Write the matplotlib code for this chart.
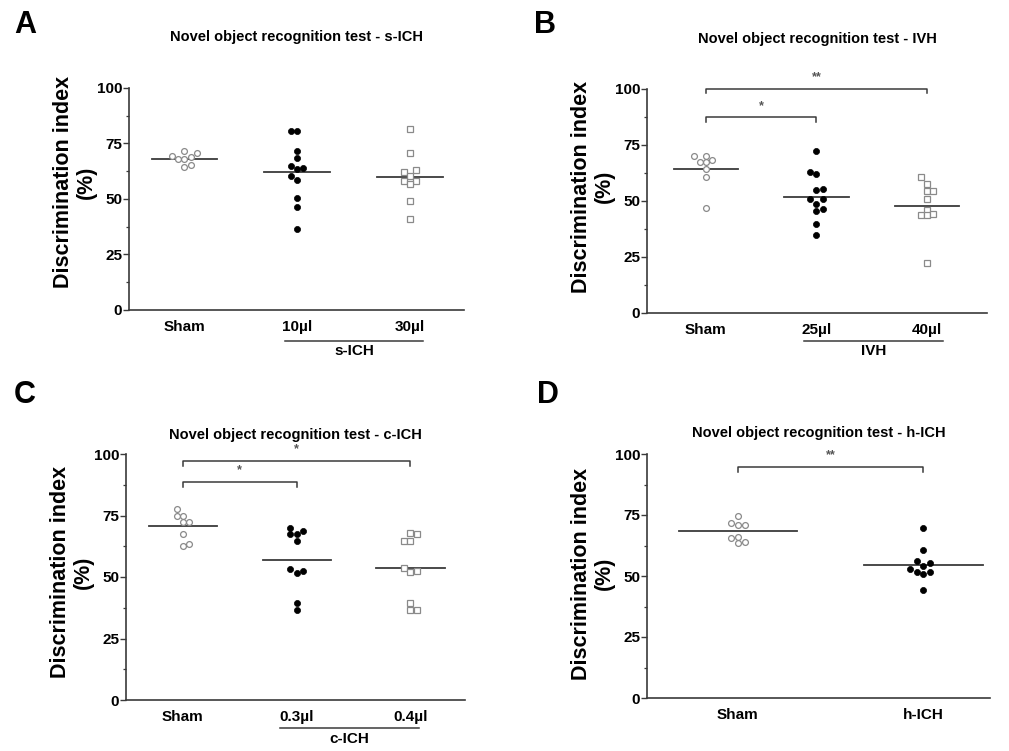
import matplotlib
matplotlib.use("Agg")
import matplotlib.pyplot as plt
import numpy as np

plt.rcParams["font.family"] = ["Liberation Sans", "DejaVu Sans"]
plt.rcParams["font.weight"] = "bold"

W, H = 1009, 751
INK = "#3a3a3a"
GREY = "#8a8a8a"

# ---------------------------------------------------------------------------
# Data (discrimination index, %) and horizontal slot of each dot in its column
# ---------------------------------------------------------------------------

a_labels = ["Sham", "10µl", "30µl"]
a_sham = [69.2, 68.1, 71.4, 68.0, 68.9, 70.5, 64.2, 65.4]
a_sham_slot = [-2, -1, 0, 0, 1, 2, 0, 1]
a_10 = [80.8, 80.8, 71.7, 68.3, 64.8, 63.5, 64.1, 60.5, 58.6, 50.5, 46.2, 36.5]
a_10_slot = [-1, 0, 0, 0, -1, 0, 1, -1, 0, 0, 0, 0]
a_30 = [81.5, 70.5, 62.3, 62.9, 60.5, 58.3, 58.3, 56.7, 49.2, 40.9]
a_30_slot = [0, 0, -1, 1, 0, -1, 1, 0, 0, 0]

b_labels = ["Sham", "25µl", "40µl"]
b_sham = [69.9, 70.3, 67.2, 67.2, 68.3, 64.1, 60.5, 46.8]
b_sham_slot = [-2, 0, -1, 0, 1, 0, 0, 0]
b_25 = [72.3, 62.8, 61.9, 54.9, 55.5, 50.8, 51.0, 48.5, 45.5, 46.3, 39.6, 34.8]
b_25_slot = [0, -1, 0, 0, 1, -1, 1, 0, 0, 1, 0, 0]
b_40 = [60.5, 57.8, 54.5, 54.5, 51.0, 45.9, 43.7, 43.7, 44.0, 22.5]
b_40_slot = [-1, 0, 0, 1, 0, 0, -1, 0, 1, 0]

c_labels = ["Sham", "0.3µl", "0.4µl"]
c_sham = [77.6, 74.9, 74.9, 72.2, 72.2, 67.6, 62.8, 63.5]
c_sham_slot = [-1, -1, 0, 0, 1, 0, 0, 1]
c_03 = [70.1, 67.3, 67.3, 68.7, 64.5, 53.3, 51.6, 52.5, 39.3, 36.5]
c_03_slot = [-1, -1, 0, 1, 0, -1, 0, 1, 0, 0]
c_04 = [67.8, 67.3, 64.8, 64.8, 53.7, 51.9, 52.6, 39.6, 36.7, 36.7]
c_04_slot = [0, 1, -1, 0, -1, 0, 1, 0, 0, 1]

d_labels = ["Sham", "h-ICH"]
d_sham = [74.7, 71.6, 71.0, 71.0, 65.4, 66.0, 63.5, 63.8]
d_sham_slot = [0, -1, 0, 1, -1, 0, 0, 1]
d_ich = [69.5, 60.5, 56.1, 55.3, 54.0, 52.9, 51.5, 50.7, 51.6, 44.1]
d_ich_slot = [0, 0, -1, 1, 0, -2, -1, 0, 1, 0]

# significance brackets: (from group, to group, bar height, stars)
b_sig = [(0, 1, 87.3, "*"), (0, 2, 100.0, "**")]
c_sig = [(0, 1, 88.5, "*"), (0, 2, 97.0, "*")]
d_sig = [(0, 1, 94.7, "**")]

STYLES = {
    "circle_open": dict(marker="o", markersize=4.2, markerfacecolor="white",
                        markeredgecolor=GREY, markeredgewidth=0.9),
    "circle_fill": dict(marker="o", markersize=4.4, markerfacecolor="black",
                        markeredgecolor="black", markeredgewidth=0.5),
    "square_open": dict(marker="s", markersize=4.4, markerfacecolor="white",
                        markeredgecolor=GREY, markeredgewidth=0.9),
}


def px_rect(left, right, top, bottom):
    return [left / W, 1 - bottom / H, (right - left) / W, (bottom - top) / H]


def setup_axes(ax, labels, xlim, title, title_pad, label_y):
    ax.set_xlim(*xlim)
    ax.set_ylim(0, 100)
    ax.set_xticks(range(len(labels)))
    ax.set_xticklabels(labels, fontsize=11, fontweight="bold")
    ax.set_yticks([0, 25, 50, 75, 100])
    ax.set_yticks(np.arange(12.5, 100, 25), minor=True)
    ax.tick_params(axis="x", length=0, pad=7)
    ax.tick_params(axis="y", which="major", length=4, width=1.0, color=INK,
                   labelsize=11, pad=1)
    ax.tick_params(axis="y", which="minor", length=2.5, width=0.9, color=INK)
    for lab in ax.get_yticklabels():
        lab.set_fontweight("bold")
    for s in ("top", "right"):
        ax.spines[s].set_visible(False)
    for s in ("left", "bottom"):
        ax.spines[s].set_color(INK)
        ax.spines[s].set_linewidth(1.2)
    ax.set_ylabel("Discrimination index\n(%)", fontsize=15.5, fontweight="bold",
                  linespacing=1.1)
    ax.yaxis.set_label_coords(-32 / (ax.bbox.width), label_y)
    ax.set_title(title, fontsize=10.5, fontweight="bold", pad=title_pad)


def dot_plot(ax, groups, step, half):
    for i, (vals, slots, style) in enumerate(groups):
        x = i + np.asarray(slots) * step
        ax.plot(x, vals, linestyle="none", zorder=3, **STYLES[style])
        m = np.mean(vals)
        ax.plot([i - half, i + half], [m, m], color=INK, lw=1.3, zorder=2)


def brackets(ax, sig):
    for g0, g1, y, stars in sig:
        ax.plot([g0, g0, g1, g1], [y - 2, y, y, y - 2], color=INK, lw=1.1,
                clip_on=False)
        ax.text((g0 + g1) / 2, y + 2.5, stars, ha="center", va="bottom",
                fontsize=9, color="#555555")


def group_line(ax, x0, x1, y, label):
    ax.plot([x0, x1], [y, y], color=INK, lw=1.1, clip_on=False)
    ax.text((x0 + x1) / 2, y - 1.5, label, ha="center", va="top",
            fontsize=11, fontweight="bold")


fig = plt.figure(figsize=(W / 100, H / 100), dpi=100)

axA = fig.add_axes(px_rect(129, 464, 88, 310))
setup_axes(axA, a_labels, (-0.49, 2.48), "Novel object recognition test - s-ICH", 34, 0.575)
dot_plot(axA, [(a_sham, a_sham_slot, "circle_open"),
               (a_10, a_10_slot, "circle_fill"),
               (a_30, a_30_slot, "square_open")], 0.056, 0.29)
group_line(axA, 0.89, 2.12, -14, "s-ICH")

axB = fig.add_axes(px_rect(647, 987, 89, 313))
setup_axes(axB, b_labels, (-0.53, 2.54), "Novel object recognition test - IVH", 33, 0.565)
dot_plot(axB, [(b_sham, b_sham_slot, "circle_open"),
               (b_25, b_25_slot, "circle_fill"),
               (b_40, b_40_slot, "square_open")], 0.055, 0.29)
brackets(axB, b_sig)
group_line(axB, 0.89, 2.14, -12.5, "IVH")

axC = fig.add_axes(px_rect(126, 465, 454, 700))
setup_axes(axC, c_labels, (-0.50, 2.48), "Novel object recognition test - c-ICH", 11, 0.52)
dot_plot(axC, [(c_sham, c_sham_slot, "circle_open"),
               (c_03, c_03_slot, "circle_fill"),
               (c_04, c_04_slot, "square_open")], 0.055, 0.3)
brackets(axC, c_sig)
group_line(axC, 0.85, 2.08, -11.4, "c-ICH")

axD = fig.add_axes(px_rect(647, 990, 454, 698))
setup_axes(axD, d_labels, (-0.49, 1.36), "Novel object recognition test - h-ICH", 12, 0.51)
dot_plot(axD, [(d_sham, d_sham_slot, "circle_open"),
               (d_ich, d_ich_slot, "circle_fill")], 0.036, 0.32)
brackets(axD, d_sig)

for letter, x, y in [("A", 25, 25), ("B", 545, 25), ("C", 25, 395), ("D", 548, 395)]:
    fig.text(x / W, 1 - y / H, letter, fontsize=22, fontweight="bold",
             ha="center", va="center")

fig.savefig("out.png", dpi=100)
